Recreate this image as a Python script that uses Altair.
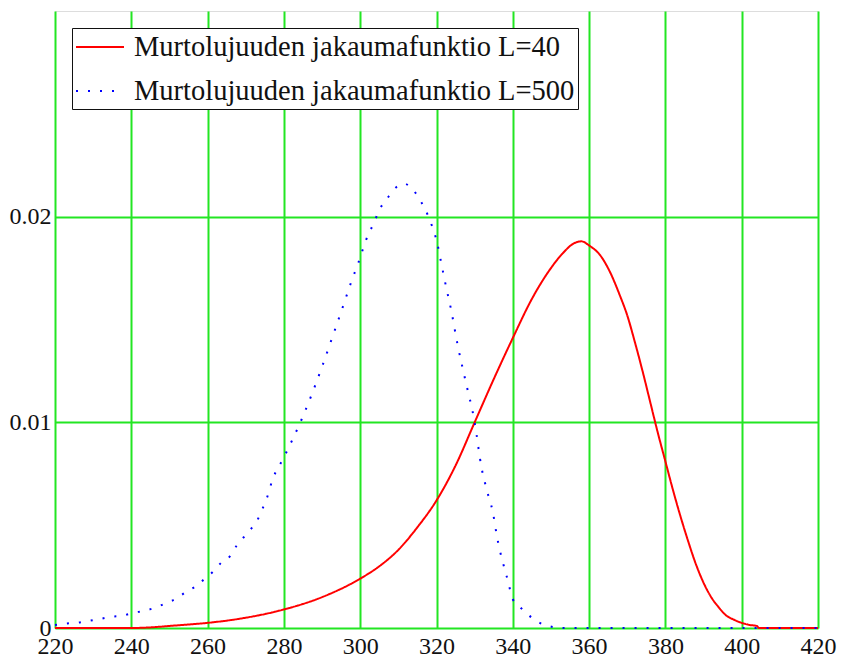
import altair as alt
import pandas as pd

# Series L=40 (red, solid)
x_red = [220, 240, 245, 250, 255, 260, 270, 280, 290, 300, 305, 310, 315, 320,
         325, 330, 335, 340, 345, 350, 353, 356, 358, 360, 363, 365.5, 368, 370,
         372, 374, 376, 378, 380, 382, 384, 386, 388, 390, 392, 394, 396, 398,
         400, 402, 404, 404.5, 420]
y_red = [0, 0, 0.00003, 0.0001, 0.00017, 0.00025, 0.0005, 0.0009, 0.0015, 0.0024, 0.003,
         0.0038, 0.0049, 0.0062, 0.0079, 0.0100, 0.0121, 0.0141, 0.0160, 0.0175,
         0.0182, 0.0187, 0.0188, 0.0186, 0.0181, 0.0173, 0.0162, 0.0152,
         0.0139, 0.0125, 0.0110, 0.0095, 0.0081, 0.0067, 0.0054, 0.0042, 0.0031, 0.0022,
         0.0015, 0.0010, 0.0006, 0.0004, 0.00025, 0.00015, 0.0001, 0, 0]

# Series L=500 (blue, dotted)
x_blue = [220, 223, 226, 229, 231.8, 234.9, 237.8, 240.5, 243.3, 246.4, 249, 251.9, 254.3,
          256.7, 259.3, 261.2, 263.7, 265.9, 267.6, 269.4, 271.3, 272.9, 274.4, 275.5, 277,
          280, 285, 290, 293, 295.6, 297.6, 299.6, 301.6, 303.6, 305.2, 306.8, 308.7, 311.5,
          313.9, 315.7, 317.2, 318.3, 319.3, 320.2, 321.4, 322.5, 323.8, 325.5, 327.5, 330,
          331.8, 333.2, 334.8, 335.8, 338.7, 340, 342, 345, 348, 350.5, 353, 420]
y_blue = [0.00015, 0.00022, 0.00026, 0.00035, 0.00044, 0.00055, 0.0006, 0.00074, 0.00083,
          0.001, 0.0012, 0.00144, 0.00175, 0.002, 0.0024, 0.0027, 0.0032, 0.0035, 0.004,
          0.0044, 0.0048, 0.0052, 0.0058, 0.0063, 0.0072, 0.0083, 0.0103, 0.0127, 0.0143,
          0.0157, 0.0168, 0.0178, 0.0189, 0.0197, 0.0204, 0.0208, 0.0213, 0.0216, 0.0213,
          0.0208, 0.0203, 0.0198, 0.0193, 0.0187, 0.0176, 0.0166, 0.0155, 0.0138, 0.0121,
          0.01, 0.0078, 0.0067, 0.0056, 0.0045, 0.0023, 0.0014, 0.001, 0.0005, 0.00017,
          0.00005, 0, 0]

labels = ["Murtolujuuden jakaumafunktio L=40", "Murtolujuuden jakaumafunktio L=500"]
x_ticks = [220, 240, 260, 280, 300, 320, 340, 360, 380, 400, 420]
y_ticks = [0, 0.01, 0.02]

rows = []
for i, (xs, ys) in enumerate([(x_red, y_red), (x_blue, y_blue)]):
    for k, (a, b) in enumerate(zip(xs, ys)):
        rows.append({"x": a, "y": b, "series": labels[i], "order": k})
df = pd.DataFrame(rows)

FONT = "'Liberation Serif', 'Times New Roman', serif"

chart = alt.Chart(df).mark_line(strokeWidth=2, interpolate="monotone").encode(
    x=alt.X("x:Q", scale=alt.Scale(domain=[220, 420], nice=False, zero=False),
            axis=alt.Axis(values=x_ticks, title=None, grid=True, domain=False, ticks=False,
                          labelFont=FONT, labelFontSize=24, labelColor="#111111",
                          labelPadding=6, gridColor="#22e622", gridWidth=2, gridOpacity=1,
                          labelFlush=False, labelOverlap=False)),
    y=alt.Y("y:Q", scale=alt.Scale(domain=[0, 0.03], nice=False),
            axis=alt.Axis(values=y_ticks, title=None, grid=True, domain=False, ticks=False,
                          labelFont=FONT, labelFontSize=24, labelColor="#111111",
                          labelPadding=4, gridColor="#22e622", gridWidth=2, gridOpacity=1,
                          labelFlush=False, labelOverlap=False,
                          labelExpr="datum.value == 0 ? '0' : format(datum.value, '.2f')")),
    color=alt.Color("series:N", scale=alt.Scale(domain=labels, range=["#ff0000", "#0000ff"]),
                    legend=alt.Legend(title=None, orient="none", legendX=17, legendY=17,
                                      fillColor="white", strokeColor="#111111",
                                      labelFont=FONT, labelFontSize=28.5, labelColor="#111111",
                                      symbolType="M-1.6,0H1.6", symbolSize=900,
                                      symbolOffset=9,
                                      symbolStrokeWidth=2, labelOffset=18, rowPadding=13,
                                      padding=3, labelLimit=1000)),
    strokeDash=alt.StrokeDash("series:N",
                              scale=alt.Scale(domain=labels, range=[[1, 0], [2, 10]]),
                              legend=None),
    order="order:Q",
).properties(
    width=763, height=617,
    padding={"left": 55, "top": 11, "right": 25, "bottom": 29},
    autosize=alt.AutoSizeParams(type="none"),
).configure_view(
    stroke="#333333", strokeWidth=2.5
).configure(background="white")

chart.save("out.html", embed_options={"renderer": "svg", "actions": False})
